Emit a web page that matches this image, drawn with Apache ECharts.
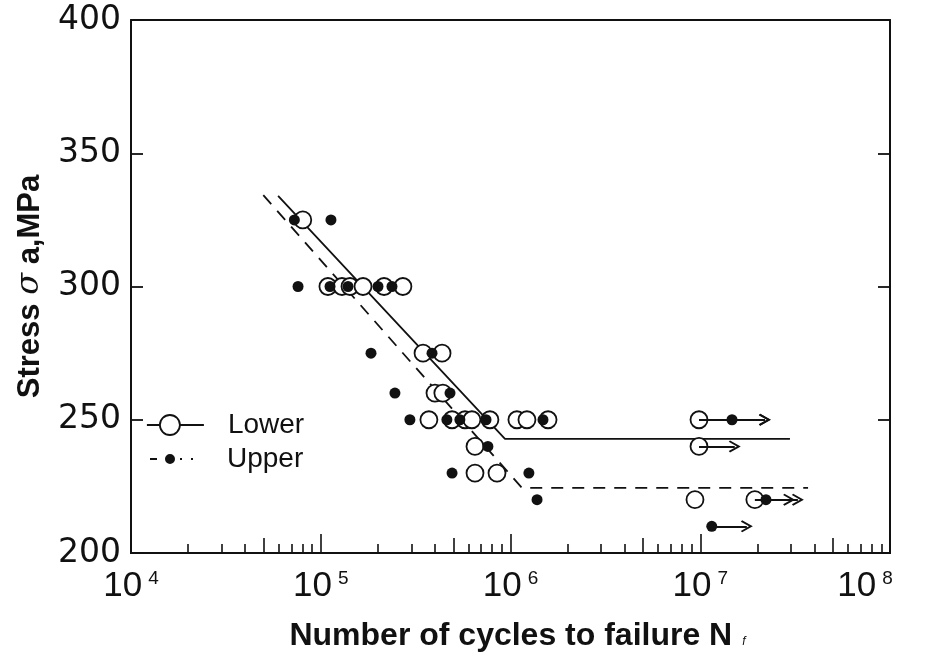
<!DOCTYPE html>
<html>
<head>
<meta charset="utf-8">
<script src="https://cdn.jsdelivr.net/npm/echarts@6/dist/echarts.min.js"></script>
<style>
  html, body { margin: 0; padding: 0; background: #fff; }
  #chart { width: 928px; height: 661px; }
</style>
</head>
<body>
<div id="chart"></div>
<script>
// S-N fatigue data: cycles to failure vs stress amplitude (MPa)
const lowerCycles = [80400,
  109100, 129400, 142600, 167000, 215500, 271000,
  346000, 435800,
  400000, 440000,
  371500, 492000, 576000, 626000, 779000, 1081000, 1221000, 1577000, 9850000,
  650000, 9850000,
  650000, 849000,
  9380000, 19400000];
const lowerStress = [325,
  300, 300, 300, 300, 300, 300,
  275, 275,
  260, 260,
  250, 250, 250, 250, 250, 250, 250, 250, 250,
  240, 240,
  230, 230,
  220, 220];

const upperCycles = [72600, 113200,
  75900, 111900, 139200, 200300, 237300,
  184000, 385800,
  246000, 480000,
  295000, 462000, 541000, 743000, 1483000, 14700000,
  760000,
  492000, 1250000,
  1380000, 22200000,
  11500000];
const upperStress = [325, 325,
  300, 300, 300, 300, 300,
  275, 275,
  260, 260,
  250, 250, 250, 250, 250, 250,
  240,
  230, 230,
  220, 220,
  210];

// Fitted S-N curves (knee + endurance limit)
const lowerFitCycles = [59600, 935000, 29700000];
const lowerFitStress = [334, 242.8, 242.8];
const upperFitCycles = [49800, 1150000, 37000000];
const upperFitStress = [334.3, 224.4, 224.4];

// Run-outs (unbroken specimens): start cycles, stress, arrow tip cycles
const lowerRunStart = [9850000, 9850000, 19400000];
const lowerRunStress = [250, 240, 220];
const lowerRunEnd = [21900000, 15200000, 32700000];
const upperRunStart = [14700000, 22200000, 11500000];
const upperRunStress = [250, 220, 210];
const upperRunEnd = [21900000, 29400000, 17600000];

// Axis tick values
const yTicks = [200, 250, 300, 350, 400];
const decadeTicks = [1e4, 1e5, 1e6, 1e7, 1e8];
const halfDecadeTicks = [5e4, 5e5, 5e6, 5e7];
const minorMultipliers = [2, 3, 4, 6, 7, 8, 9];

const INK = '#111';
const FONT = 'Liberation Sans, Arial, sans-serif';

const minorTicks = [];
[1e4, 1e5, 1e6, 1e7].forEach(d => minorMultipliers.forEach(m => minorTicks.push(m * d)));

const zip = (a, b) => a.map((v, i) => [v, b[i]]);

const chevron = 'path://M0,10 L6,0 L12,10 L10.6,11.2 L6,3.6 L1.4,11.2 Z';
function runouts(starts, stress, ends) {
  return starts.map((s, i) => [
    { coord: [s, stress[i]] },
    { coord: [ends[i], stress[i]] }
  ]);
}

const baseX = {
  type: 'log', logBase: 10, min: 1e4, max: 1e8, gridIndex: 0,
  splitLine: { show: false },
  axisLabel: { show: false },
  axisLine: { show: true, lineStyle: { color: INK, width: 2 } }
};

const expStyle = { fontFamily: FONT, fontSize: 19, lineHeight: 19, color: INK, verticalAlign: 'top', padding: [0, 0, 0, 6] };

const chart = echarts.init(document.getElementById('chart'), null, { renderer: 'canvas' });
chart.setOption({
  animation: false,
  backgroundColor: '#fff',
  grid: { left: 131, right: 38, top: 20, bottom: 108, containLabel: false, outerBoundsMode: 'none' },
  xAxis: [
    Object.assign({}, baseX, {
      position: 'bottom',
      name: '{t|Number of cycles to failure N}{f|f}',
      nameLocation: 'middle',
      nameGap: 67,
      nameTextStyle: {
        color: INK, fontFamily: FONT, fontSize: 32, fontWeight: 'bold',
        rich: {
          t: { fontFamily: FONT, fontSize: 32, fontWeight: 'bold', color: INK, padding: [0, 0, 0, 14] },
          f: { fontSize: 12, fontStyle: 'italic', fontWeight: 'normal', color: INK, padding: [12, 0, 0, 10] }
        }
      },
      axisTick: { show: true, inside: true, length: 19, lineStyle: { color: INK, width: 1.6 }, customValues: decadeTicks },
      axisLabel: {
        show: true, margin: 16, color: INK,
        customValues: decadeTicks,
        formatter: v => {
          const e = Math.round(Math.log10(v));
          return e === 8 ? '{b|10}{e8|' + e + '}' : '{b|10}{e|' + e + '}';
        },
        rich: {
          b: { fontFamily: FONT, fontSize: 35, lineHeight: 35, color: INK, verticalAlign: 'bottom' },
          e: expStyle,
          e8: Object.assign({}, expStyle, { padding: [0, 50, 0, 6] })
        }
      }
    }),
    Object.assign({}, baseX, {
      position: 'bottom',
      axisTick: { show: true, inside: true, length: 15, lineStyle: { color: INK, width: 1.6 }, customValues: halfDecadeTicks }
    }),
    Object.assign({}, baseX, {
      position: 'bottom',
      axisTick: { show: true, inside: true, length: 9, lineStyle: { color: INK, width: 1.6 }, customValues: minorTicks }
    }),
    Object.assign({}, baseX, {
      position: 'top',
      axisTick: { show: false }
    })
  ],
  yAxis: [
    {
      type: 'value', min: 200, max: 400, interval: 50, position: 'left',
      name: 'Stress {s|σ} a,MPa',
      nameLocation: 'middle',
      nameGap: 85,
      nameRotate: 90,
      nameTextStyle: {
        color: INK, fontFamily: FONT, fontSize: 31, fontWeight: 'bold',
        rich: { s: { fontFamily: 'DejaVu Serif, serif', fontStyle: 'italic', fontWeight: 'normal', fontSize: 32, color: INK } }
      },
      splitLine: { show: false },
      axisLine: { show: true, lineStyle: { color: INK, width: 2 } },
      axisTick: { show: true, inside: true, length: 12, lineStyle: { color: INK, width: 1.8 } },
      axisLabel: {
        margin: 10, color: INK, fontFamily: 'DejaVu Sans, sans-serif', fontSize: 33,
        customValues: yTicks
      }
    },
    {
      type: 'value', min: 200, max: 400, interval: 50, position: 'right',
      splitLine: { show: false },
      axisLine: { show: true, lineStyle: { color: INK, width: 2 } },
      axisTick: { show: true, inside: true, length: 12, lineStyle: { color: INK, width: 1.8 } },
      axisLabel: { show: false }
    }
  ],
  legend: [
    {
      orient: 'vertical', left: 141, top: 406,
      itemWidth: 57, itemHeight: 20, symbolKeepAspect: true,
      textStyle: { color: INK, fontFamily: FONT, fontSize: 28, padding: [0, 0, 0, 19] },
      data: [{
        name: 'Lower',
        icon: 'path://M0,10 L13,10 M33,10 L57,10 M13,10 A10,10 0 1 1 33,10 A10,10 0 1 1 13,10 Z',
        itemStyle: { color: '#fff', borderColor: INK, borderWidth: 1.8 }
      }]
    },
    {
      orient: 'vertical', left: 145, top: 440,
      itemWidth: 43, itemHeight: 10, symbolKeepAspect: true,
      textStyle: { color: INK, fontFamily: FONT, fontSize: 28, padding: [0, 0, 0, 29] },
      data: [{
        name: 'Upper',
        icon: 'path://M0,4 L7,4 L7,6 L0,6 Z M15,5 A5,5 0 1 1 25,5 A5,5 0 1 1 15,5 Z M30,4 L32,4 L32,6 L30,6 Z M41,4 L43,4 L43,6 L41,6 Z',
        itemStyle: { color: INK, borderWidth: 0 }
      }]
    }
  ],
  series: [
    {
      name: 'Lower', type: 'line', xAxisIndex: 0, yAxisIndex: 0,
      data: zip(lowerFitCycles, lowerFitStress),
      showSymbol: false, symbol: 'none', silent: true, z: 1,
      lineStyle: { color: INK, width: 1.8, type: 'solid' }
    },
    {
      name: 'Upper', type: 'line', xAxisIndex: 0, yAxisIndex: 0,
      data: zip(upperFitCycles, upperFitStress),
      showSymbol: false, symbol: 'none', silent: true, z: 1,
      lineStyle: { color: INK, width: 1.8, type: [12, 9] }
    },
    {
      name: 'Lower', type: 'scatter', xAxisIndex: 0, yAxisIndex: 0,
      data: zip(lowerCycles, lowerStress),
      symbol: 'circle', symbolSize: 17, z: 3,
      itemStyle: { color: '#fff', borderColor: INK, borderWidth: 1.8, opacity: 1 },
      markLine: {
        silent: true, animation: false,
        symbol: ['none', chevron], symbolSize: [12, 12],
        label: { show: false },
        lineStyle: { color: INK, width: 1.8, type: 'solid' },
        data: runouts(lowerRunStart, lowerRunStress, lowerRunEnd)
      }
    },
    {
      name: 'Upper', type: 'scatter', xAxisIndex: 0, yAxisIndex: 0,
      data: zip(upperCycles, upperStress),
      symbol: 'circle', symbolSize: 11, z: 4,
      itemStyle: { color: INK, opacity: 1 },
      markLine: {
        silent: true, animation: false,
        symbol: ['none', chevron], symbolSize: [12, 12],
        label: { show: false },
        lineStyle: { color: INK, width: 1.8, type: 'solid' },
        data: runouts(upperRunStart, upperRunStress, upperRunEnd)
      }
    }
  ]
});
</script>
</body>
</html>
